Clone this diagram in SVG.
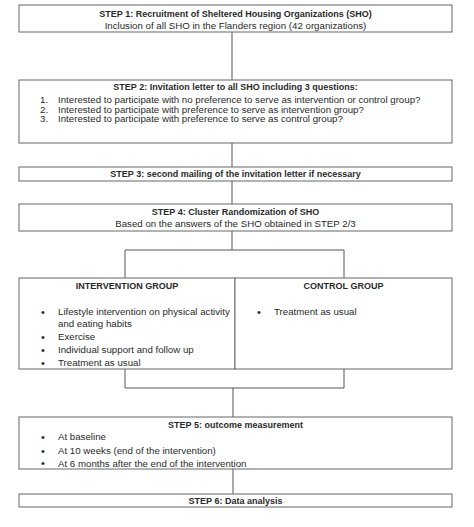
<svg xmlns="http://www.w3.org/2000/svg" width="474" height="527" viewBox="0 0 474 527">
<style>
.box{fill:#fff;stroke:#666;stroke-width:1}
.ln{fill:none;stroke:#555;stroke-width:1}
text{font-family:"Liberation Sans",Arial,sans-serif;font-size:9.7px;fill:#2a2a2a}
.b{font-weight:bold;font-size:9px}
.c{text-anchor:middle}
.d{font-size:11px}
</style>
<rect width="474" height="527" fill="#fff"/>
<g id="connectors">
<path class="ln" d="M232 32V80M232 143V167M232 181V204M232 231V250M125 250H344M125 250V278M344 250V278M125 369V388M344 369V388M125 388H344M233 388V417M233 469V494"/>
</g>
<g id="step1">
<rect class="box" x="19" y="5" width="433" height="27"/>
<text class="b c" x="235.5" y="16.5">STEP 1: Recruitment of Sheltered Housing Organizations (SHO)</text>
<text class="c" x="235.5" y="29">Inclusion of all SHO in the Flanders region (42 organizations)</text>
</g>
<g id="step2">
<rect class="box" x="19" y="80" width="433" height="63"/>
<text class="b c" x="235.5" y="90">STEP 2: Invitation letter to all SHO including 3 questions:</text>
<text x="40" y="102.5">1.</text><text x="58" y="102.5">Interested to participate with no preference to serve as intervention or control group?</text>
<text x="40" y="112.5">2.</text><text x="58" y="112.5">Interested to participate with preference to serve as intervention group?</text>
<text x="40" y="122">3.</text><text x="58" y="122">Interested to participate with preference to serve as control group?</text>
</g>
<g id="step3">
<rect class="box" x="19" y="167" width="433" height="14"/>
<text class="b c" x="235.5" y="177">STEP 3: second mailing of the invitation letter if necessary</text>
</g>
<g id="step4">
<rect class="box" x="19" y="204" width="433" height="27"/>
<text class="b c" x="235.5" y="214.5">STEP 4: Cluster Randomization of SHO</text>
<text class="c" x="235.5" y="226.5">Based on the answers of the SHO obtained in STEP 2/3</text>
</g>
<g id="intervention">
<rect class="box" x="19" y="278" width="216" height="91"/>
<text class="b c" x="127" y="288.5">INTERVENTION GROUP</text>
<text class="d" x="41" y="315.5">•</text><text x="58" y="315">Lifestyle intervention on physical activity</text>
<text x="58" y="327">and eating habits</text>
<text class="d" x="41" y="340.5">•</text><text x="58" y="340">Exercise</text>
<text class="d" x="41" y="353.5">•</text><text x="58" y="353">Individual support and follow up</text>
<text class="d" x="41" y="366.5">•</text><text x="58" y="366">Treatment as usual</text>
</g>
<g id="control">
<rect class="box" x="235" y="278" width="217" height="91"/>
<text class="b c" x="343.5" y="288.5">CONTROL GROUP</text>
<text class="d" x="257" y="315.5">•</text><text x="274" y="315">Treatment as usual</text>
</g>
<g id="step5">
<rect class="box" x="19" y="417" width="433" height="52"/>
<text class="b c" x="235.5" y="427.5">STEP 5: outcome measurement</text>
<text class="d" x="41" y="440.5">•</text><text x="58" y="440">At baseline</text>
<text class="d" x="41" y="454.5">•</text><text x="58" y="454">At 10 weeks (end of the intervention)</text>
<text class="d" x="41" y="467">•</text><text x="58" y="466.5">At 6 months after the end of the intervention</text>
</g>
<g id="step6">
<rect class="box" x="19" y="494" width="433" height="13"/>
<text class="b c" x="235.5" y="504">STEP 6: Data analysis</text>
</g>
</svg>
